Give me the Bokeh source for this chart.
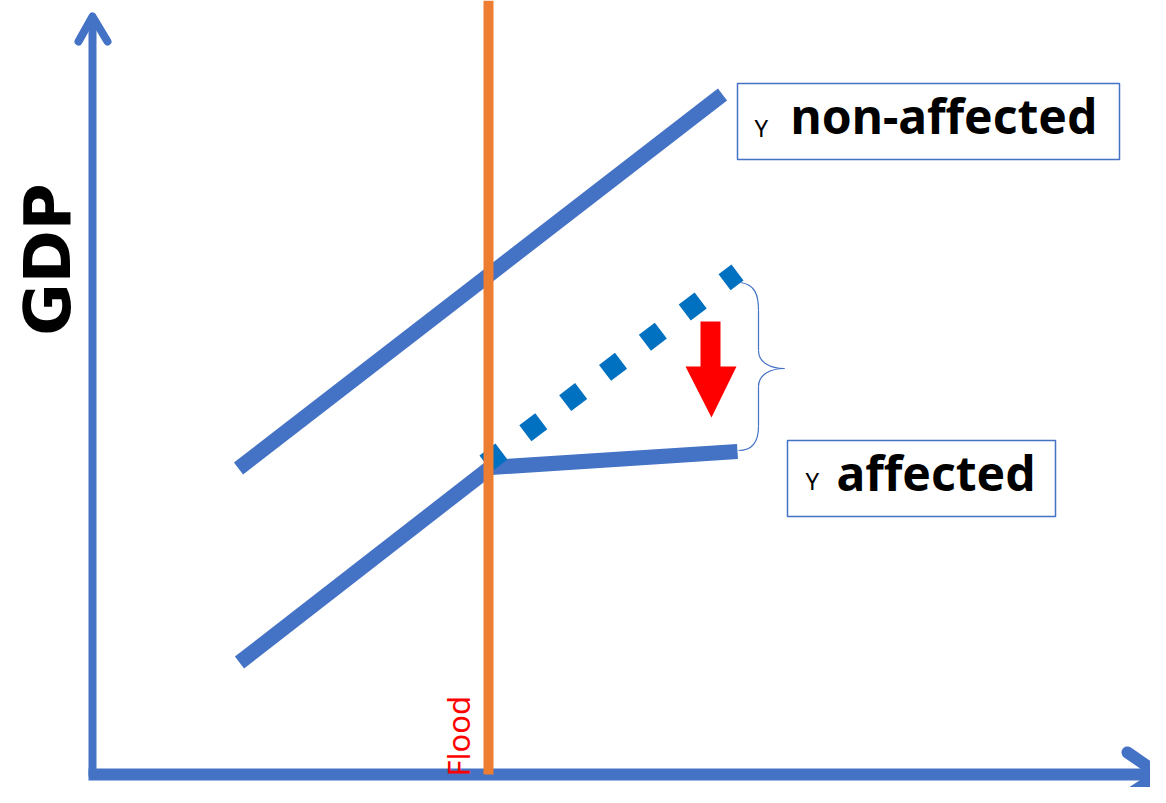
import math
from bokeh.plotting import figure
from bokeh.models import Range1d
from bokeh.embed import file_html
from bokeh.resources import INLINE
from bokeh.core.properties import value

# ---- diagram data (screen-like units: x to the right, y downward) ----
y_axis_x = [92, 92]
y_axis_y = [776, 16]
y_head_x = [78, 92, 107]
y_head_y = [41, 16, 41]

x_axis_x = [88, 1159]
x_axis_y = [774, 774]
x_head_x = [1127, 1159, 1127]
x_head_y = [752, 774, 795]

nonaff_x = [238, 722]
nonaff_y = [468, 94]

aff_pre_x = [239, 490]
aff_pre_y = [662, 467]
aff_post_x = [490, 737]
aff_post_y = [467, 451]

counter_x = [485, 737]
counter_y = [463, 272]

flood_x = [488, 488]
flood_y = [0, 774]

arrow_x = [700, 720, 720, 736, 711, 685, 700]
arrow_y = [321, 321, 366, 366, 417, 366, 366]

brace_x0 = [740, 758, 784, 758]
brace_y0 = [282, 350, 368, 426]
brace_x1 = [758, 784, 758, 738]
brace_y1 = [310, 368, 386, 450]
brace_cx0 = [755, 758, 770, 758]
brace_cy0 = [284, 362, 368, 442]
brace_cx1 = [758, 770, 758, 752]
brace_cy1 = [295, 368, 374, 450]
brace_lx0 = [758, 758]
brace_ly0 = [310, 386]
brace_lx1 = [758, 758]
brace_ly1 = [350, 426]

box_left = [737, 787]
box_right = [1119, 1055]
box_top = [83, 440]
box_bottom = [159, 516]

label_small = ["Y", "Y"]
label_small_x = [754, 805]
label_small_y = [127, 480]
label_main = ["non-affected", "affected"]
label_main_x = [790, 836]
label_main_y = [115, 472]

gdp_label = "GDP"
flood_label = "Flood"

BLUE = "#4472C4"
DBLUE = "#0070C0"
ORANGE = "#ED7D31"
RED = "#FF0000"

p = figure(width=1150, height=787, output_backend="svg", toolbar_location=None,
           x_range=Range1d(0, 1150), y_range=Range1d(787, 0),
           min_border=0, outline_line_color=None)
p.axis.visible = False
p.grid.visible = False
p.background_fill_color = "white"

# axes
p.line(y_axis_x, y_axis_y, line_color=BLUE, line_width=8)
p.line(y_head_x, y_head_y, line_color=BLUE, line_width=8, line_cap="round", line_join="round")
p.line(x_axis_x, x_axis_y, line_color=BLUE, line_width=12)
p.line(x_head_x, x_head_y, line_color=BLUE, line_width=12, line_cap="round", line_join="round")

# GDP curves
p.line(nonaff_x, nonaff_y, line_color=BLUE, line_width=15)
p.line(aff_pre_x, aff_pre_y, line_color=BLUE, line_width=15)
p.line(aff_post_x, aff_post_y, line_color=BLUE, line_width=15)
p.line(counter_x, counter_y, line_color=DBLUE, line_width=20, line_dash="20 30")

# flood line
p.line(flood_x, flood_y, line_color=ORANGE, line_width=10)

# red arrow
p.patch(arrow_x, arrow_y, fill_color=RED, line_color=None)

# brace
p.bezier(x0=brace_x0, y0=brace_y0, x1=brace_x1, y1=brace_y1,
         cx0=brace_cx0, cy0=brace_cy0, cx1=brace_cx1, cy1=brace_cy1,
         line_color=BLUE, line_width=1.2)
p.segment(brace_lx0, brace_ly0, brace_lx1, brace_ly1, line_color=BLUE, line_width=1.2)

# label boxes
p.quad(left=box_left, right=box_right, top=box_top, bottom=box_bottom,
       fill_color="white", line_color=BLUE, line_width=1.5)
p.text(x=label_small_x, y=label_small_y, text=label_small, text_font=value("Noto Sans"),
       text_font_size="24px", text_color="black", text_baseline="middle", text_align="left")
p.text(x=label_main_x, y=label_main_y, text=label_main, text_font=value("Noto Sans"),
       text_font_size="48px", text_font_style="bold", text_color="black",
       text_baseline="middle", text_align="left")

# rotated labels
p.text(x=[47], y=[259], text=[gdp_label], angle=math.pi / 2, text_font=value("DejaVu Sans"),
       text_font_size="64px", text_font_style="bold", text_color="black",
       text_baseline="middle", text_align="center")
p.text(x=[457], y=[776], text=[flood_label], angle=math.pi / 2, text_font=value("Noto Sans"),
       text_font_size="31px", text_color=RED,
       text_baseline="middle", text_align="left")

open("out.html", "w").write(file_html(p, INLINE))
